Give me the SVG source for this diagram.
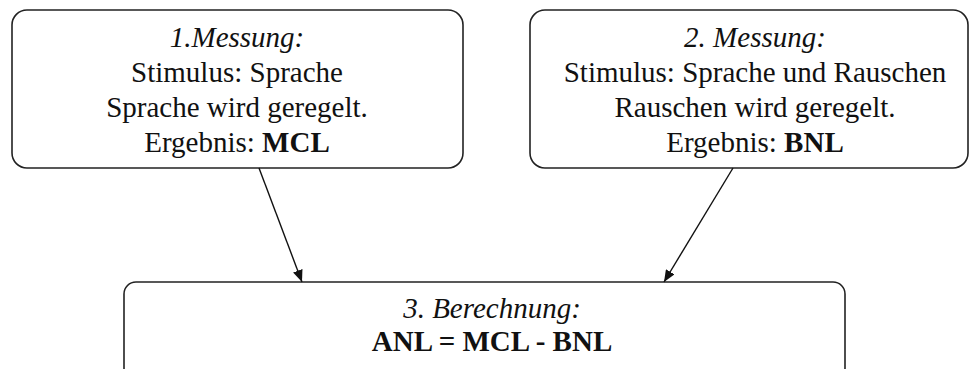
<svg xmlns="http://www.w3.org/2000/svg" width="969" height="369" viewBox="0 0 969 369">
<style>
.box{fill:#fff;stroke:#222;stroke-width:1.6}
.t{font-family:'Times New Roman',Times,Tinos,'Liberation Serif','Nimbus Roman','FreeSerif','Noto Serif',serif;font-size:29px;fill:#111;text-anchor:middle}
.i{font-style:italic}
.b{font-weight:bold}
.edge{stroke:#111;stroke-width:1.4;fill:none;marker-end:url(#ah)}
</style>
<defs>
<marker id="ah" viewBox="0 0 12 10" refX="12" refY="5" markerWidth="12" markerHeight="10" markerUnits="userSpaceOnUse" orient="auto">
<path d="M0,0 L12,5 L0,10 Z" fill="#111"/>
</marker>
</defs>
<rect width="969" height="369" fill="#fff"/>
<g id="node1">
<rect class="box" x="12" y="10" width="451" height="158" rx="15" ry="15"/>
<text class="t i" x="237" y="47">1.Messung:</text>
<text class="t" x="237" y="82">Stimulus: Sprache</text>
<text class="t" x="237" y="117">Sprache wird geregelt.</text>
<text class="t" x="237" y="152">Ergebnis: <tspan class="b">MCL</tspan></text>
</g>
<g id="node2">
<rect class="box" x="530" y="10" width="438" height="158" rx="15" ry="15"/>
<text class="t i" x="755" y="47">2. Messung:</text>
<text class="t" x="755" y="82">Stimulus: Sprache und Rauschen</text>
<text class="t" x="755" y="117">Rauschen wird geregelt.</text>
<text class="t" x="755" y="152">Ergebnis: <tspan class="b">BNL</tspan></text>
</g>
<g id="node3">
<rect class="box" x="124" y="282" width="721" height="98" rx="12" ry="12"/>
<text class="t i" x="492" y="318">3. Berechnung:</text>
<text class="t b" x="492" y="351">ANL = MCL - BNL</text>
</g>
<g id="connectors">
<line class="edge" x1="259" y1="168" x2="302" y2="282"/>
<line class="edge" x1="733" y1="168" x2="664" y2="282"/>
</g>
</svg>
